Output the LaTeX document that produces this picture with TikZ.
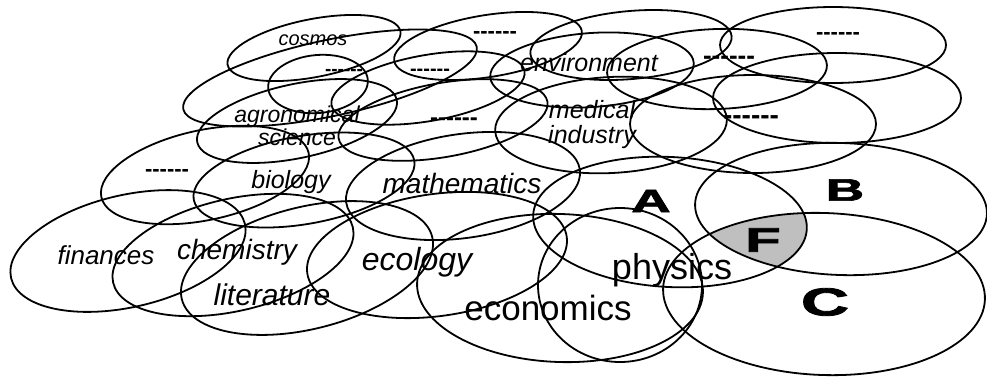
\documentclass[tikz,border=0pt]{standalone}
\usepackage{graphicx}
\usepackage{fontspec}
\setmainfont{Liberation Sans}[Ligatures=TeXOff]
\newfontfamily\heavyfont{Liberation Sans Bold}[FakeBold=2]
\usepackage{tikz}

\begin{document}
\begin{tikzpicture}[x=1pt, y=-1pt,
  field/.style={draw, line width=1.8pt},
  topic/.style={font=\fontsize{#1}{#1}\selectfont\itshape, inner sep=0pt},
  blank/.style={font=\fontsize{#1}{#1}\selectfont\bfseries, inner sep=0pt},
  region/.style={font=\fontsize{#1}{#1}\selectfont\heavyfont, inner sep=0pt}]
  \useasboundingbox (0,0) rectangle (987,376);

  % Shaded overlap F of A, B and C
  \begin{scope}
    \clip[rotate around={-3:(670,222)}] (670,222) ellipse [x radius=137pt, y radius=65pt];
    \clip[rotate around={-2:(841,209)}] (841,209) ellipse [x radius=146pt, y radius=66pt];
    \fill[gray!50, rotate around={-2:(824,294)}] (824,294) ellipse [x radius=161pt, y radius=81pt];
  \end{scope}

  % Back rows
  \foreach \cx/\cy/\rx/\ry/\rot in {314/48/88/29/11, 488/46/95/31/9, 631/45/101/34/5,
      833/45/113/38/0, 330/78/150/38/12, 318/84/50/29/5, 428/88/98/33/10,
      592/70/102/37/4, 717/69/110/40/2, 837/98/124/45/0}
    \draw[field, rotate around={\rot:(\cx,\cy)}] (\cx,\cy) ellipse [x radius=\rx pt, y radius=\ry pt];
  % Middle rows
  \foreach \cx/\cy/\rx/\ry/\rot in {297/121/102/37/12, 443/120/106/37/10, 611/125/116/48/3,
      753/124/123/49/0, 205/175/106/45/12, 304/180/112/44/10, 463/186/118/52/8}
    \draw[field, rotate around={\rot:(\cx,\cy)}] (\cx,\cy) ellipse [x radius=\rx pt, y radius=\ry pt];
  % Front row
  \foreach \cx/\cy/\rx/\ry/\rot in {128/251/120/56/13, 233/255/123/56/13, 307/268/129/61/14,
      437/255/131/61/8, 560/288/143/74/-2, 620/285/82/77/0}
    \draw[field, rotate around={\rot:(\cx,\cy)}] (\cx,\cy) ellipse [x radius=\rx pt, y radius=\ry pt];
  % A, B and C
  \draw[field, rotate around={-3:(670,222)}] (670,222) ellipse [x radius=137pt, y radius=65pt];
  \draw[field, rotate around={-2:(841,209)}] (841,209) ellipse [x radius=146pt, y radius=66pt];
  \draw[field, rotate around={-2:(824,294)}] (824,294) ellipse [x radius=161pt, y radius=81pt];

  % Subjects
  \node[topic=20] (cosmos) at (313,40) {cosmos};
  \node[topic=25] (envir) at (589,63) {environment};
  \node[topic=23, align=center] (agro) at (297,126) {agronomical\\science};
  \node[topic=25, align=center] (medic) at (592,125) {medical\\industry};
  \node[topic=25] (bio) at (291,182) {biology};
  \node[topic=28] (math) at (462,183) {mathematics};
  \node[topic=26] (fin) at (106,255) {finances};
  \node[topic=28] (chem) at (237,252) {chemistry};
  \node[topic=30] (lit) at (272,295) {literature};
  \node[topic=32] (eco) at (417,262) {ecology};
  \node[topic=35, font=\fontsize{35}{35}\selectfont] (econ) at (548,308) {economics};
  \node[topic=36, font=\fontsize{36}{36}\selectfont] (phys) at (672,270) {physics};

  % Unnamed fields
  \node[blank=22] (b1) at (495,35) {------};
  \node[blank=19] (b2) at (344,72) {------};
  \node[blank=20] (b3) at (430,72) {------};
  \node[blank=26] (b4) at (729,60) {------};
  \node[blank=22] (b5) at (838,36) {------};
  \node[blank=24] (b6) at (454,122) {------};
  \node[blank=28] (b7) at (751,120) {------};
  \node[blank=22] (b8) at (167,173) {------};

  % Sets
  \node[region=32] (setA) at (651,201) {\scalebox{1.7}[1]{A}};
  \node[region=31] (setB) at (845,190) {\scalebox{1.7}[1]{B}};
  \node[region=34] (setF) at (763,240) {\scalebox{1.7}[1]{F}};
  \node[region=39] (setC) at (825,302) {\scalebox{1.7}[1]{C}};
\end{tikzpicture}
\end{document}
